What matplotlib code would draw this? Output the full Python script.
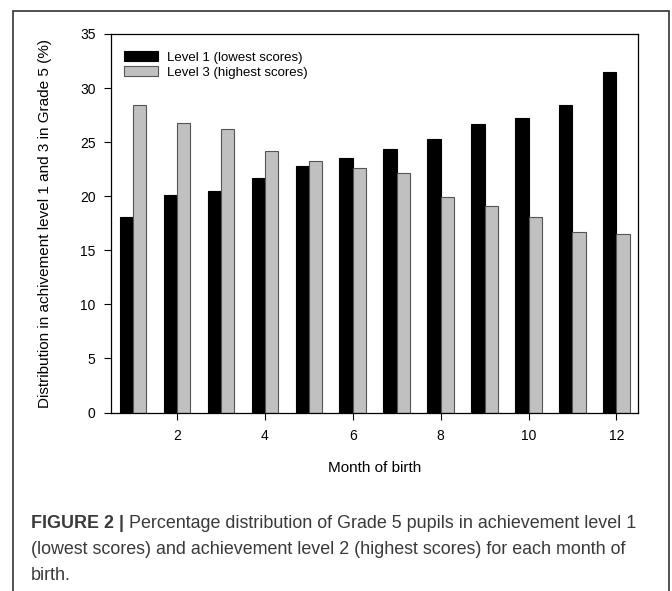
import numpy as np
import matplotlib
matplotlib.use("Agg")
import matplotlib.pyplot as plt
from matplotlib.patches import Rectangle

plt.rcParams['font.family'] = ['Liberation Sans', 'DejaVu Sans']

months = np.arange(1, 13)
level1 = [18.1, 20.1, 20.5, 21.7, 22.8, 23.5, 24.4, 25.3, 26.7, 27.2, 28.4, 31.5]
level3 = [28.4, 26.8, 26.2, 24.2, 23.3, 22.6, 22.1, 19.9, 19.1, 18.1, 16.7, 16.5]
xticks = [2, 4, 6, 8, 10, 12]
yticks = [0, 5, 10, 15, 20, 25, 30, 35]

fig = plt.figure(figsize=(6.72, 5.91), dpi=100)
ax = fig.add_axes([0.165, 0.302, 0.785, 0.6405])

w = 0.3
ax.bar(months - w / 2, level1, w, color='black', edgecolor='black', linewidth=0.8,
       label='Level 1 (lowest scores)')
ax.bar(months + w / 2, level3, w, color='#c0c0c0', edgecolor='#555555', linewidth=0.8,
       label='Level 3 (highest scores)')

ax.set_xlim(0.5, 12.5)
ax.set_ylim(0, 35)
ax.set_xticks(xticks)
ax.set_yticks(yticks)
ax.tick_params(direction='out', length=5, width=0.8, labelsize=10)
ax.tick_params(axis='x', pad=7)
ax.tick_params(axis='y', pad=6)
for s in ax.spines.values():
    s.set_linewidth(0.9)

ax.set_xlabel('Month of birth', fontsize=11, labelpad=13)
ax.set_ylabel('Distribution in achivement level 1 and 3 in Grade 5 (%)', fontsize=11, labelpad=20)

ax.legend(loc='upper left', bbox_to_anchor=(0.025, 0.954), frameon=False, fontsize=9.5,
          handlelength=2.6, handleheight=0.75, labelspacing=0.2, handletextpad=0.65,
          borderpad=0, borderaxespad=0)

# outer frame of the figure panel
fig.patches.append(Rectangle((13 / 672, -0.05), (669 - 13) / 672, 1 - 11 / 591 + 0.05,
                             transform=fig.transFigure, fill=False,
                             edgecolor='#333333', linewidth=1.2))

# caption
cap_color = '#3a3a3a'
cap_size = 12.9
x0 = 31 / 672
t1 = fig.text(x0, 1 - 524 / 591, 'FIGURE 2 | ', fontsize=cap_size, fontweight='bold',
              color=cap_color, va='center')
fig.canvas.draw()
bb = t1.get_window_extent()
fig.text(bb.x1 / fig.bbox.width, 1 - 524 / 591,
         'Percentage distribution of Grade 5 pupils in achievement level 1',
         fontsize=cap_size, color=cap_color, va='center')
fig.text(x0, 1 - 550 / 591,
         '(lowest scores) and achievement level 2 (highest scores) for each month of',
         fontsize=cap_size, color=cap_color, va='center')
fig.text(x0, 1 - 576 / 591, 'birth.', fontsize=cap_size, color=cap_color, va='center')

fig.savefig('out.png', dpi=100)
